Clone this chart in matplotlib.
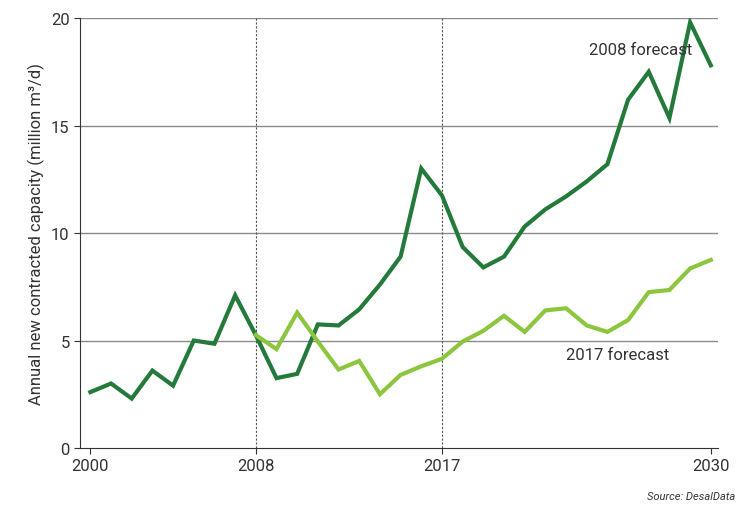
import matplotlib
matplotlib.use("Agg")
import matplotlib.pyplot as plt

years_2008 = list(range(2000, 2031))
forecast_2008 = [2.6, 3.0, 2.3, 3.6, 2.9, 5.0, 4.85, 7.1, 5.25, 3.25, 3.45, 5.75, 5.7, 6.45, 7.6, 8.9,
                 13.0, 11.75, 9.35, 8.4, 8.9, 10.3, 11.1, 11.7, 12.4, 13.2, 16.2, 17.5, 15.35, 19.8, 17.8]
years_2017 = list(range(2008, 2031))
forecast_2017 = [5.25, 4.6, 6.3, 4.95, 3.65, 4.05, 2.5, 3.4, 3.8, 4.15, 4.95, 5.45, 6.15, 5.4, 6.4, 6.5,
                 5.7, 5.4, 5.95, 7.25, 7.35, 8.35, 8.75]
xticks = [2000, 2008, 2017, 2030]
yticks = [0, 5, 10, 15, 20]

plt.rcParams["font.family"] = "Roboto"
fig = plt.figure(figsize=(7.43, 5.10), dpi=100)
ax = fig.add_axes([0.1077, 0.1196, 0.8587, 0.8431])
for y in yticks[1:]:
    ax.axhline(y, color="#8a8a8a", lw=1, zorder=0)
for x in [2008, 2017]:
    ax.axvline(x, color="#555555", lw=0.8, ls=(0, (2, 1.5)), zorder=0)
ax.plot(years_2008, forecast_2008, color="#237a3b", lw=3, solid_joinstyle="miter")
ax.plot(years_2017, forecast_2017, color="#8cc63f", lw=3, solid_joinstyle="miter")
ax.set_xlim(1999.5, 2030.35)
ax.set_ylim(0, 20)
ax.set_xticks(xticks)
ax.set_yticks(yticks)
for s in ["top", "right"]:
    ax.spines[s].set_visible(False)
ax.spines["left"].set_color("#333333")
ax.spines["bottom"].set_color("#333333")
ax.tick_params(length=4, labelsize=12, color="#333333", labelcolor="#333333")
ax.set_ylabel("Annual new contracted capacity (million m³/d)", fontsize=12, color="#333333")
ax.text(2026.6, 18.2, "2008 forecast", fontsize=12, color="#333333", ha="center", va="bottom")
ax.text(2025.5, 4.0, "2017 forecast", fontsize=12, color="#333333", ha="center", va="bottom")
fig.text(0.99, 0.02, "Source: DesalData", fontsize=8, style="italic", color="#333333", ha="right")
fig.savefig("out.png", dpi=100)
